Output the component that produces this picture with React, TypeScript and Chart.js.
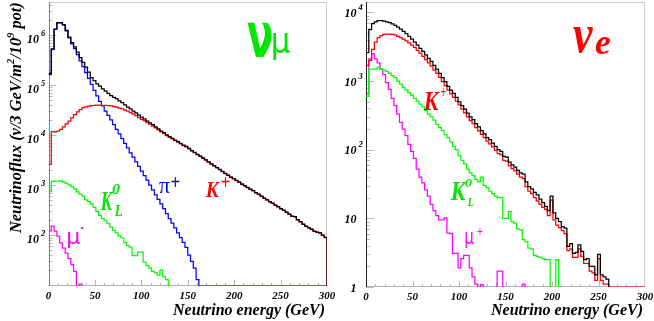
import React, { useEffect, useRef } from "react";
import { Chart, registerables } from "chart.js";

Chart.register(...registerables);

// ---------- data (3 GeV bins, 0..300 GeV). null = empty bin (not drawn), 0 = drawn along the axis floor
const BIN_GEV = 3;
const X_TICKS = [0, 50, 100, 150, 200, 250, 300];
const NUMU_Y_TICKS = [1e2, 1e3, 1e4, 1e5, 1e6];
const NUE_Y_TICKS = [1, 10, 1e2, 1e3, 1e4];

// nu_mu panel
const NUMU_TOTAL = [
  1.7e5, 5.2e5, 1.3e6, 1.75e6, 1.75e6, 1.6e6, 1.22e6, 9.0e5, 7.0e5, 5.7e5,
  4.5e5, 3.5e5, 2.8e5, 2.25e5, 1.8e5, 1.4e5, 1.22e5, 1.05e5, 9.4e4, 8.3e4,
  7.5e4, 6.8e4, 6.1e4, 5.6e4, 5.3e4, 4.8e4, 4.4e4, 4.0e4, 3.6e4, 3.3e4,
  3.0e4, 2.75e4, 2.5e4, 2.27e4, 2.1e4, 1.9e4, 1.74e4, 1.6e4, 1.45e4, 1.32e4,
  1.2e4, 1.11e4, 1.01e4, 9.3e3, 8.6e3, 7.9e3, 7.4e3, 6.8e3, 6.3e3, 5.9e3,
  5.4e3, 4.9e3, 4.5e3, 4.1e3, 3.8e3, 3.5e3, 3.2e3, 2.9e3, 2.65e3, 2.45e3,
  2.24e3, 2.05e3, 1.87e3, 1.72e3, 1.58e3, 1.45e3, 1.35e3, 1.24e3, 1.15e3, 1.05e3,
  980, 900, 830, 780, 710, 660, 600, 550, 510, 470,
  435, 400, 370, 340, 316, 290, 265, 240, 235, 205,
  186, 166, 152, 141, 132, 120, 115, 112, 100, 91,
];
const NUMU_KPLUS = [
  2.6e3, 1.17e4, 1.15e4, 1.2e4, 1.3e4, 1.45e4, 1.66e4, 1.9e4, 2.2e4, 2.55e4,
  2.9e4, 3.2e4, 3.5e4, 3.65e4, 3.75e4, 3.85e4, 3.9e4, 3.95e4, 3.95e4, 3.9e4,
  3.9e4, 3.85e4, 3.8e4, 3.7e4, 3.6e4, 3.45e4, 3.3e4, 3.15e4, 3.0e4, 2.8e4,
  2.6e4, 2.42e4, 2.23e4, 2.05e4, 1.93e4, 1.76e4, 1.63e4, 1.51e4, 1.38e4, 1.26e4,
  1.15e4, 1.07e4, 9.7e3, 9.0e3, 8.35e3, 7.7e3, 7.2e3, 6.65e3, 6.15e3, 5.8e3,
  5.3e3, 4.82e3, 4.43e3, 4.05e3, 3.75e3, 3.46e3, 3.17e3, 2.87e3, 2.62e3, 2.43e3,
  2.22e3, 2.03e3, 1.85e3, 1.7e3, 1.56e3, 1.44e3, 1.34e3, 1.23e3, 1.14e3, 1.04e3,
  970, 890, 822, 772, 703, 654, 594, 545, 505, 465,
  430, 396, 366, 337, 313, 287, 262, 238, 232, 203,
  184, 164, 150, 140, 131, 119, 114, 111, 99, 90,
];
const NUMU_PIPLUS = [
  1.6e5, 5.1e5, 1.28e6, 1.73e6, 1.73e6, 1.57e6, 1.19e6, 8.7e5, 6.6e5, 5.3e5,
  4.0e5, 3.0e5, 2.3e5, 1.75e5, 1.35e5, 1.02e5, 7.8e4, 6.0e4, 4.7e4, 3.8e4,
  3.0e4, 2.45e4, 2.0e4, 1.6e4, 1.3e4, 1.05e4, 8.5e3, 6.8e3, 5.5e3, 4.4e3,
  3.6e3, 2.9e3, 2.35e3, 1.9e3, 1.55e3, 1.25e3, 1.0e3, 800, 640, 520,
  420, 340, 270, 215, 175, 140, 112, 90, 72, 57,
  40, 30, 22, 13, 0, 0, 0, 0, 0, 0,
  0, 0, 0, 0, 0, 0, 0, 0, 0, 0,
  0, 0, 0, 0, 0, 0, 0, 0, 0, 0,
  0, 0, 0, 0, 0, 0, 0, 0, 0, 0,
  0, 0, 0, 0, 0, 0, 0, 0, 0, 0,
];
const NUMU_K0L = [
  740, 1180, 1200, 1200, 1220, 1150, 1080, 1000, 930, 840,
  730, 660, 600, 510, 470, 420, 360, 300, 250, 215,
  195, 170, 145, 125, 112, 97, 88, 72, 62, 58,
  39, 39, 46, 46, 29, 25, 22, 19, 18, 16,
  20, 15, 13,
];
const NUMU_MUMINUS = [122, 152, 120, 96, 70, 55, 44, 34, 26, 19, null, 10.6];

// nu_e panel
const NUE_TOTAL = [
  2.6e3, 5.6e3, 6.9e3, 7.3e3, 7.6e3, 7.6e3, 7.5e3, 7.3e3, 7.1e3, 6.8e3,
  6.5e3, 6.1e3, 5.7e3, 5.3e3, 4.9e3, 4.5e3, 4.1e3, 3.7e3, 3.35e3, 3.0e3,
  2.7e3, 2.4e3, 2.15e3, 1.93e3, 1.7e3, 1.5e3, 1.3e3, 1.12e3, 980, 840,
  740, 660, 580, 500, 440, 390, 340, 300, 275, 240,
  215, 190, 170, 150, 140, 125, 112, 100, 95, 80,
  78, 66, 60, 56, 50, 46, 44, 34, 29, 27,
  24, 22, 19, 17, 15, 13, 21, 12, 10, 9,
  7.6, 7.2, 3.9, 4.3, 3.1, 3.2, 4.1, 3.3, 2.5, 2.6,
  2.0, 2.0, 1.5, 3.0, 1.5, 1.4, 1.3,
];
const NUE_KPLUS = [
  1.7e3, 2.0e3, 2.9e3, 3.7e3, 4.3e3, 4.6e3, 4.8e3, 4.85e3, 4.85e3, 4.8e3,
  4.7e3, 4.5e3, 4.3e3, 4.1e3, 3.85e3, 3.6e3, 3.35e3, 3.1e3, 2.8e3, 2.55e3,
  2.3e3, 2.05e3, 1.85e3, 1.65e3, 1.45e3, 1.3e3, 1.13e3, 980, 860, 740,
  650, 580, 510, 450, 390, 345, 300, 265, 240, 210,
  188, 168, 150, 133, 122, 110, 98, 88, 84, 70,
  68, 58, 53, 49, 44, 40, 38, 29, 25, 23,
  20, 18, 16, 14.5, 13.5, 11, 18.5, 9.5, 8, 7.3,
  6.6, 6.0, 3.4, 3.6, 2.7, 2.7, 3.6, 2.8, 2.2, 2.2,
  1.7, 1.6, 1.25, 2.6, 1.25, 1.1, 1.1, 0, 0, 0,
  0, 0, 0, 0, 0, 0, 0, 0, 0, 0,
];
const NUE_K0L = [
  600, 1500, 1500, 1500, 1580, 1500, 1450, 1380, 1300, 1200,
  1120, 1000, 900, 800, 740, 680, 620, 560, 510, 460,
  420, 370, 330, 300, 270, 235, 210, 190, 165, 150,
  130, 112, 100, 82, 70, 62, 52, 46, 42, 37,
  34, 40, 30, 28, 25, 23, 21, 20, 20, 10,
  10, 12.5, 9, 8.5, 7, 6.8, 4.9, 4.6, 3.7, 3.6,
  2.9, 2.8, 2.7, 2.6, 2.5, 2.5, null, null, 2.5,
];
const NUE_MUPLUS = [
  640, 2100, 2500, 2100, 1850, 1500, 1240, 950, 760, 560,
  440, 330, 250, 200, 160, 120, 95, 75, 52, 40,
  33, 26, 21, 16, 13, 11, 9.5, 9.5, 10.2, 6.1,
  6.0, 3.1, 3.1, 1.9, 2.6, 2.9, 2.9, 1.9, 1.4, 1.1,
  null, 1.08, null, null, null, null, null, 1.7, 1.7, null,
  null, null, null, null, null, null, 1.1,
];

// ---------- styling
const SERIF = '"Liberation Serif", "Times New Roman", serif';
const SANS = '"DejaVu Sans", "Liberation Sans", sans-serif';
const C_BLACK = "#000000";
const C_RED = "#ff0000";
const C_BLUE = "#0000ff";
const C_GREEN = "#00ff00";
const C_GREEN_TXT = "#00e600";
const C_MAGENTA = "#ff00ff";

type Label = { text: string; font: string; color: string; box: [number, number, number, number] }; // E0, E1, log10 top, log10 bottom

const NUMU_LABELS: Label[] = [
  { text: "ν", font: `bold 48px ${SANS}`, color: C_GREEN_TXT, box: [213.9, 240.8, 6.23, 5.53] },
  { text: "μ", font: `38px ${SANS}`, color: C_GREEN_TXT, box: [241.9, 260.2, 6.03, 5.49] },
  { text: "π", font: `26px ${SERIF}`, color: C_BLUE, box: [119.1, 130.9, 3.06, 2.84] },
  { text: "+", font: `bold 18px ${SERIF}`, color: C_BLUE, box: [131.5, 141.7, 3.16, 2.96] },
  { text: "K", font: `italic bold 26px ${SERIF}`, color: C_RED, box: [168.6, 184.8, 3.06, 2.76] },
  { text: "+", font: `bold 18px ${SERIF}`, color: C_RED, box: [185.5, 195.6, 3.16, 2.96] },
  { text: "K", font: `italic bold 26px ${SERIF}`, color: C_GREEN_TXT, box: [55.5, 69.5, 2.86, 2.5] },
  { text: "0", font: `italic bold 16px ${SERIF}`, color: C_GREEN_TXT, box: [68.4, 77.0, 3.02, 2.82] },
  { text: "L", font: `italic bold 16px ${SERIF}`, color: C_GREEN_TXT, box: [70.6, 80.3, 2.62, 2.38] },
  { text: "μ", font: `24px ${SANS}`, color: C_MAGENTA, box: [21.0, 33.9, 2.08, 1.74] },
  { text: "-", font: `bold 14px ${SANS}`, color: C_MAGENTA, box: [34.5, 38.3, 2.17, 2.12] },
];
const NUE_LABELS: Label[] = [
  { text: "ν", font: `italic bold 44px ${SERIF}`, color: C_RED, box: [222.6, 244.1, 3.78, 3.42] },
  { text: "e", font: `italic bold 40px ${SERIF}`, color: C_RED, box: [246.2, 262.4, 3.65, 3.39] },
  { text: "K", font: `italic bold 26px ${SERIF}`, color: C_RED, box: [61.3, 79.6, 2.83, 2.58] },
  { text: "+", font: `bold 14px ${SERIF}`, color: C_RED, box: [80.0, 86.0, 2.89, 2.77] },
  { text: "K", font: `italic bold 26px ${SERIF}`, color: C_GREEN_TXT, box: [90.3, 108.6, 1.52, 1.27] },
  { text: "0", font: `italic bold 16px ${SERIF}`, color: C_GREEN_TXT, box: [106.5, 114.0, 1.59, 1.46] },
  { text: "L", font: `italic bold 16px ${SERIF}`, color: C_GREEN_TXT, box: [108.6, 116.1, 1.31, 1.18] },
  { text: "μ", font: `22px ${SANS}`, color: C_MAGENTA, box: [106.5, 116.1, 0.79, 0.57] },
  { text: "+", font: `bold 14px ${SERIF}`, color: C_MAGENTA, box: [119.4, 125.8, 0.86, 0.76] },
];

type Series = { values: (number | null)[]; color: string };
interface Panel {
  id: string;
  width: number;
  yMin: number;
  yMax: number;
  yTicks: number[];
  series: Series[]; // first is drawn on top
  padding: { left: number; right: number; top: number; bottom: number };
  leftAxisColor: string;
  yLabelDy: number;
  yTitle: boolean;
  labels: Label[];
}

const PANELS: Panel[] = [
  {
    id: "numu",
    width: 340,
    yMin: 9.7,
    yMax: 4.5e6,
    yTicks: NUMU_Y_TICKS,
    series: [
      { values: NUMU_TOTAL, color: C_BLACK },
      { values: NUMU_KPLUS, color: C_RED },
      { values: NUMU_PIPLUS, color: C_BLUE },
      { values: NUMU_K0L, color: C_GREEN },
      { values: NUMU_MUMINUS, color: C_MAGENTA },
    ],
    padding: { left: 48.5, right: 13, top: 2, bottom: 35 },
    leftAxisColor: "#808080",
    yLabelDy: 8,
    yTitle: true,
    labels: NUMU_LABELS,
  },
  {
    id: "nue",
    width: 324,
    yMin: 1,
    yMax: 1.42e4,
    yTicks: NUE_Y_TICKS,
    series: [
      { values: NUE_TOTAL, color: C_BLACK },
      { values: NUE_KPLUS, color: C_RED },
      { values: NUE_K0L, color: C_GREEN },
      { values: NUE_MUPLUS, color: C_MAGENTA },
    ],
    padding: { left: 36, right: 9, top: 2, bottom: 34 },
    leftAxisColor: "#202020",
    yLabelDy: 4.5,
    yTitle: false,
    labels: NUE_LABELS,
  },
];

// histogram bins -> step outline points
function toPoints(vals: (number | null)[], yMin: number) {
  const pts: { x: number; y: number | null }[] = [];
  let prev = false;
  vals.forEach((v, i) => {
    const x0 = i * BIN_GEV;
    const x1 = (i + 1) * BIN_GEV;
    if (v === null) {
      if (prev) {
        pts.push({ x: x0, y: yMin });
        pts.push({ x: x0, y: null });
      }
      prev = false;
      return;
    }
    const y = v <= 0 ? yMin : v;
    if (!prev && i > 0) pts.push({ x: x0, y: yMin });
    pts.push({ x: x0, y });
    pts.push({ x: x1, y });
    prev = true;
  });
  if (prev) pts.push({ x: vals.length * BIN_GEV, y: yMin });
  return pts;
}

function fitText(ctx: CanvasRenderingContext2D, text: string, font: string, color: string, x0: number, y0: number, x1: number, y1: number) {
  ctx.save();
  ctx.font = font;
  ctx.textAlign = "left";
  ctx.textBaseline = "alphabetic";
  const m = ctx.measureText(text);
  const w = m.actualBoundingBoxLeft + m.actualBoundingBoxRight;
  const h = m.actualBoundingBoxAscent + m.actualBoundingBoxDescent;
  ctx.translate(x0, y0);
  ctx.scale((x1 - x0) / w, (y1 - y0) / h);
  ctx.fillStyle = color;
  ctx.fillText(text, m.actualBoundingBoxLeft, m.actualBoundingBoxAscent);
  ctx.restore();
}

type Part = { t: string; s: number; dy: number };
function richWidth(ctx: CanvasRenderingContext2D, parts: Part[], size: number) {
  let w = 0;
  for (const p of parts) {
    ctx.font = `italic bold ${size * p.s}px ${SERIF}`;
    w += ctx.measureText(p.t).width;
  }
  return w;
}
function drawRich(ctx: CanvasRenderingContext2D, parts: Part[], size: number, x: number, y: number) {
  let cx = x;
  for (const p of parts) {
    ctx.font = `italic bold ${size * p.s}px ${SERIF}`;
    ctx.fillText(p.t, cx, y + p.dy * size);
    cx += ctx.measureText(p.t).width;
  }
}

const Y_TITLE: Part[] = [
  { t: "Neutrinoflux (ν/3 GeV/m", s: 1, dy: 0 },
  { t: "2", s: 0.65, dy: -0.42 },
  { t: "/10", s: 1, dy: 0 },
  { t: "9", s: 0.65, dy: -0.42 },
  { t: " pot)", s: 1, dy: 0 },
];
const X_TITLE = "Neutrino energy (GeV)";

function makePlugin(panel: Panel) {
  return {
    id: "roothist_" + panel.id,
    beforeDatasetsDraw(chart: any) {
      const { ctx, chartArea: a, scales } = chart;
      const xs = scales.x;
      const ys = scales.y;
      ctx.save();
      ctx.lineWidth = 1;
      // ticks
      ctx.strokeStyle = "#b8b8b8";
      ctx.beginPath();
      const k0 = Math.floor(Math.log10(panel.yMin));
      const k1 = Math.ceil(Math.log10(panel.yMax));
      for (let k = k0; k <= k1; k++) {
        for (let m = 1; m <= 9; m++) {
          const v = m * Math.pow(10, k);
          if (v < panel.yMin || v > panel.yMax) continue;
          const y = Math.round(ys.getPixelForValue(v)) + 0.5;
          const len = m === 1 ? 8 : 4;
          ctx.moveTo(a.left, y);
          ctx.lineTo(a.left + len, y);
        }
      }
      for (let e = 10; e < 300; e += 10) {
        const x = Math.round(xs.getPixelForValue(e)) + 0.5;
        const len = e % 50 === 0 ? 6 : 3;
        ctx.moveTo(x, a.bottom);
        ctx.lineTo(x, a.bottom - len);
      }
      ctx.stroke();
      // frame
      ctx.strokeStyle = "#cccccc";
      ctx.beginPath();
      ctx.moveTo(a.left, a.top + 0.5);
      ctx.lineTo(a.right, a.top + 0.5);
      ctx.moveTo(a.right - 0.5, a.top);
      ctx.lineTo(a.right - 0.5, a.bottom);
      ctx.stroke();
      ctx.strokeStyle = "#b4b4b4";
      ctx.beginPath();
      ctx.moveTo(a.left, a.bottom - 0.5);
      ctx.lineTo(a.right, a.bottom - 0.5);
      ctx.stroke();
      ctx.strokeStyle = panel.leftAxisColor;
      ctx.beginPath();
      ctx.moveTo(Math.round(a.left) + 0.5, a.top);
      ctx.lineTo(Math.round(a.left) + 0.5, a.bottom);
      ctx.stroke();
      ctx.restore();
    },
    afterDatasetsDraw(chart: any) {
      const { ctx, chartArea: a, scales } = chart;
      const xs = scales.x;
      const ys = scales.y;
      ctx.save();
      ctx.fillStyle = "#000";
      ctx.textBaseline = "alphabetic";
      // x tick labels
      ctx.font = `italic bold 11px ${SERIF}`;
      ctx.textAlign = "center";
      for (const e of X_TICKS) {
        ctx.fillText(String(e), xs.getPixelForValue(e), a.bottom + 12.5);
      }
      // y tick labels
      for (const v of panel.yTicks) {
        const y = ys.getPixelForValue(v);
        const exp = Math.round(Math.log10(v));
        const xr = a.left - 9.5;
        ctx.font = `italic bold 12px ${SERIF}`;
        ctx.textAlign = "right";
        if (exp === 0) {
          ctx.fillText("1", xr, y + panel.yLabelDy);
        } else {
          ctx.fillText("10", xr, y + panel.yLabelDy);
          if (exp > 1) {
            ctx.font = `italic bold 8.5px ${SERIF}`;
            ctx.textAlign = "left";
            ctx.fillText(String(exp), xr + 2, y + panel.yLabelDy - 7);
          }
        }
      }
      // x title
      ctx.textAlign = "right";
      ctx.font = `italic bold 15px ${SERIF}`;
      const w15 = ctx.measureText(X_TITLE).width;
      ctx.font = `italic bold ${(15 * 152) / w15}px ${SERIF}`;
      ctx.fillText(X_TITLE, a.right - 2, 315);
      // y title
      if (panel.yTitle) {
        const size = (16 * 231) / richWidth(ctx, Y_TITLE, 16);
        ctx.save();
        ctx.translate(20.5, 233);
        ctx.rotate(-Math.PI / 2);
        ctx.textAlign = "left";
        drawRich(ctx, Y_TITLE, size, 0, 0);
        ctx.restore();
      }
      // annotations
      for (const l of panel.labels) {
        const [e0, e1, t, b] = l.box;
        fitText(
          ctx, l.text, l.font, l.color,
          xs.getPixelForValue(e0), ys.getPixelForValue(Math.pow(10, t)),
          xs.getPixelForValue(e1), ys.getPixelForValue(Math.pow(10, b))
        );
      }
      ctx.restore();
    },
  };
}

function HistPanel({ panel, left }: { panel: Panel; left: number }) {
  const ref = useRef<HTMLCanvasElement | null>(null);
  useEffect(() => {
    if (!ref.current) return;
    const chart = new Chart(ref.current, {
      type: "line",
      data: {
        datasets: panel.series.map((s) => ({
          data: toPoints(s.values, panel.yMin) as any,
          borderColor: s.color,
          borderWidth: 1.25,
          pointRadius: 0,
          tension: 0,
          fill: false,
          spanGaps: false,
        })),
      },
      options: {
        animation: false,
        responsive: false,
        maintainAspectRatio: false,
        events: [],
        layout: { padding: panel.padding },
        plugins: { legend: { display: false }, tooltip: { enabled: false } },
        scales: {
          x: { type: "linear", min: 0, max: 300, display: false, bounds: "data" },
          y: { type: "logarithmic", min: panel.yMin, max: panel.yMax, display: false, bounds: "data" },
        },
      },
      plugins: [makePlugin(panel)],
    });
    return () => chart.destroy();
  }, [panel]);
  return (
    <canvas
      ref={ref}
      width={panel.width}
      height={321}
      style={{ position: "absolute", left, top: 0, width: panel.width, height: 321, display: "block" }}
    />
  );
}

export default function App() {
  return (
    <div style={{ position: "fixed", left: 0, top: 0, width: 654, height: 321, background: "#fff", overflow: "hidden" }}>
      <HistPanel panel={PANELS[0]} left={0} />
      <HistPanel panel={PANELS[1]} left={330} />
    </div>
  );
}
